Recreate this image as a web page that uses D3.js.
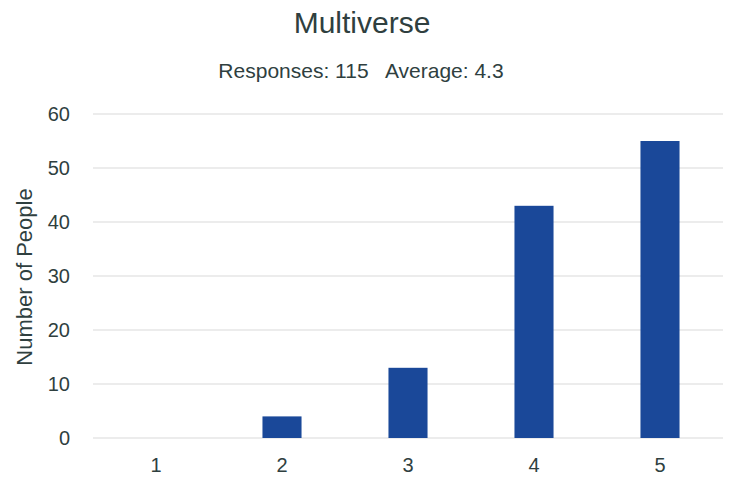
<!DOCTYPE html>
<html lang="en">
<head>
  <meta charset="utf-8">
  <title>Multiverse</title>
  <script src="https://d3js.org/d3.v7.min.js"></script>
  <style>
    body { margin: 0; background: #fff; }
    text { font-family: "Liberation Sans", Arial, sans-serif; fill: #2f3f3f; }
  </style>
</head>
<body>
<div id="chart"></div>
<script>
  // data
  var ratings = ["1", "2", "3", "4", "5"];
  var counts = [0, 4, 13, 43, 55];
  var yTicks = [0, 10, 20, 30, 40, 50, 60];
  var title = "Multiverse";
  var subtitle = "Responses: 115   Average: 4.3";
  var yLabel = "Number of People";

  var W = 729, H = 477;
  var margin = { top: 114, right: 6, bottom: 39, left: 93 },
    width = W - margin.left - margin.right,
    height = H - margin.top - margin.bottom;

  var svg = d3.select("#chart").append("svg")
    .attr("width", W)
    .attr("height", H);

  svg.append("text")
    .attr("x", 362).attr("y", 33)
    .attr("text-anchor", "middle")
    .style("font-size", "30px")
    .text(title);

  svg.append("text")
    .attr("x", 361).attr("y", 78)
    .attr("text-anchor", "middle")
    .style("font-size", "21px")
    .style("white-space", "pre")
    .attr("xml:space", "preserve")
    .text(subtitle);

  var g = svg.append("g")
    .attr("transform", "translate(" + margin.left + "," + margin.top + ")");

  var x = d3.scaleBand()
    .domain(ratings)
    .range([0, width])
    .paddingInner(0.69)
    .paddingOuter(0.345);

  var y = d3.scaleLinear()
    .domain([0, 60])
    .range([height, 0]);

  // gridlines
  g.append("g")
    .selectAll("line")
    .data(yTicks)
    .join("line")
    .attr("x1", 0).attr("x2", width)
    .attr("y1", function (d) { return y(d); })
    .attr("y2", function (d) { return y(d); })
    .attr("stroke", "#d9d9d9")
    .attr("stroke-width", 1);

  // y axis labels
  var yAxis = g.append("g")
    .call(d3.axisLeft(y).tickValues(yTicks).tickSize(0).tickPadding(23));
  yAxis.select(".domain").remove();
  yAxis.selectAll("text").style("font-size", "20px").attr("fill", "#2f3f3f");

  // x axis labels
  var xAxis = g.append("g")
    .attr("transform", "translate(0," + height + ")")
    .call(d3.axisBottom(x).tickSize(0).tickPadding(20));
  xAxis.select(".domain").remove();
  xAxis.selectAll("text").style("font-size", "20px").attr("fill", "#2f3f3f");

  // bars
  g.append("g")
    .selectAll("rect")
    .data(counts)
    .join("rect")
    .attr("x", function (d, i) { return x(ratings[i]); })
    .attr("y", function (d) { return y(d); })
    .attr("width", x.bandwidth())
    .attr("height", function (d) { return height - y(d); })
    .attr("fill", "#1a4899");

  svg.append("text")
    .attr("transform", "translate(32," + (margin.top + height / 2 + 1) + ") rotate(-90)")
    .attr("text-anchor", "middle")
    .style("font-size", "22px")
    .text(yLabel);
</script>
</body>
</html>
